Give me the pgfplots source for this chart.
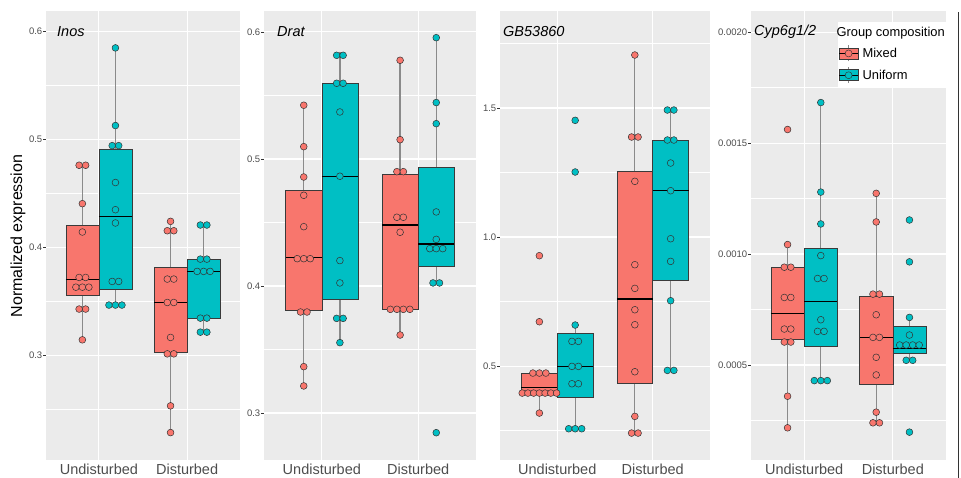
\documentclass[border=0pt]{standalone}
\usepackage{fontspec}
\setmainfont{Liberation Sans}
\usepackage{pgfplots}
\pgfplotsset{compat=1.18}
\usepgfplotslibrary{statistics}
\definecolor{mixc}{HTML}{F8766D}
\definecolor{unic}{HTML}{00BFC4}
\definecolor{bgc}{HTML}{EBEBEB}
\definecolor{labc}{HTML}{4D4D4D}
\definecolor{tickc}{HTML}{333333}
\definecolor{boxc}{HTML}{3A3A3A}
\definecolor{whc}{HTML}{8A8A8A}
\definecolor{dotb}{HTML}{333333}
\pgfplotsset{
  panel/.style={
    scale only axis, height=449pt, xmin=0.4, xmax=2.6,
    anchor=south west,
    axis background/.style={fill=bgc},
    axis line style={draw=none},
    xtick={1,2}, xticklabels={Undisturbed,Disturbed},
    xmajorgrids, ymajorgrids, yminorgrids,
    major grid style={white, line width=1.1pt},
    minor grid style={white, line width=0.55pt},
    tick align=outside, major tick length=2.75pt, minor tick length=0pt,
    ytick pos=left, xtick pos=bottom,
    xtick style={draw=none},
    ytick style={draw=tickc, line width=0.5pt},
    scaled ticks=false,
    yticklabel style={font=\fontsize{9.5}{10}\selectfont, text=labc, inner sep=0.8pt},
    xticklabel style={font=\fontsize{14.5}{15}\selectfont, text=labc, inner sep=1pt, yshift=0pt},
    boxplot/draw direction=y,
    boxplot/box extend=0.375,
    boxplot/whisker extend=0,
    boxplot/every whisker/.style={draw=whc, line width=1.3pt},
    boxplot/every median/.style={draw=black, line width=1.2pt},
  },
  mbox/.style={fill=mixc, draw=boxc, line width=0.6pt, forget plot},
  ubox/.style={fill=unic, draw=boxc, line width=0.6pt, forget plot},
  mdots/.style={only marks, mark=*, mark size=3.4pt, mark options={fill=mixc, draw=dotb, line width=0.5pt}, forget plot},
  udots/.style={only marks, mark=*, mark size=3.4pt, mark options={fill=unic, draw=dotb, line width=0.5pt}, forget plot},
  mkey/.style={legend image code/.code={
      \draw[draw=whc, line width=0.8pt] (9.5pt,-8pt) -- (9.5pt,8pt);
      \draw[fill=mixc, draw=boxc, line width=0.6pt] (0pt,-5.5pt) rectangle (19pt,5.5pt);
      \draw[black, line width=0.8pt] (0pt,0pt) -- (19pt,0pt);
      \draw[fill=mixc, draw=dotb, line width=0.45pt] (9.5pt,0pt) circle (3.5pt);}},
  ukey/.style={legend image code/.code={
      \draw[draw=whc, line width=0.8pt] (9.5pt,-8pt) -- (9.5pt,8pt);
      \draw[fill=unic, draw=boxc, line width=0.6pt] (0pt,-5.5pt) rectangle (19pt,5.5pt);
      \draw[black, line width=0.8pt] (0pt,0pt) -- (19pt,0pt);
      \draw[fill=unic, draw=dotb, line width=0.45pt] (9.5pt,0pt) circle (3.5pt);}},
}
\begin{document}
\begin{tikzpicture}
\useasboundingbox (0pt,0pt) rectangle (961pt,478pt);

% ---------------- Panel 1: Inos ----------------
\begin{axis}[panel, at={(46pt,18pt)}, width=194pt, ymin=0.2028, ymax=0.619,
  ytick={0.3,0.4,0.5,0.6}, yticklabels={0.3,0.4,0.5,0.6},
  minor ytick={0.25,0.35,0.45,0.55}]
\addplot[mbox, boxplot prepared={draw position=0.8125, lower whisker=0.3142, lower quartile=0.3556, median=0.3699, upper quartile=0.4206, upper whisker=0.476}] coordinates {};
\addplot[ubox, boxplot prepared={draw position=1.1875, lower whisker=0.3464, lower quartile=0.3609, median=0.4286, upper quartile=0.4911, upper whisker=0.5848}] coordinates {};
\addplot[mbox, boxplot prepared={draw position=1.8125, lower whisker=0.2282, lower quartile=0.3028, median=0.3488, upper quartile=0.3813, upper whisker=0.424}] coordinates {};
\addplot[ubox, boxplot prepared={draw position=2.1875, lower whisker=0.3213, lower quartile=0.3343, median=0.3776, upper quartile=0.389, upper whisker=0.4206}] coordinates {};
\addplot[mdots] coordinates {(0.7756,0.476)(0.8494,0.476)(0.8125,0.4404)(0.8125,0.4141)(0.7756,0.372)(0.8494,0.372)(0.7388,0.363)(0.8125,0.363)(0.8862,0.363)(0.7756,0.3427)(0.8494,0.3427)(0.8125,0.3142)};
\addplot[udots] coordinates {(1.1875,0.5848)(1.1875,0.5128)(1.1506,0.4942)(1.2244,0.4942)(1.1875,0.460)(1.1875,0.4348)(1.1875,0.4225)(1.1506,0.3683)(1.2244,0.3683)(1.1138,0.3464)(1.1875,0.3464)(1.2612,0.3464)};
\addplot[mdots] coordinates {(1.8125,0.424)(1.7756,0.4153)(1.8494,0.4153)(1.7756,0.3705)(1.8494,0.3705)(1.7756,0.3488)(1.8494,0.3488)(1.8125,0.3164)(1.7756,0.3012)(1.8494,0.3012)(1.8125,0.253)(1.8125,0.2282)};
\addplot[udots] coordinates {(2.1506,0.4206)(2.2244,0.4206)(2.1506,0.389)(2.2244,0.389)(2.1138,0.3776)(2.1875,0.3776)(2.2612,0.3776)(2.1506,0.3343)(2.2244,0.3343)(2.1506,0.3213)(2.2244,0.3213)};
\end{axis}

% ---------------- Panel 2: Drat ----------------
\begin{axis}[panel, at={(264pt,18pt)}, width=212pt, ymin=0.263, ymax=0.6165,
  ytick={0.3,0.4,0.5,0.6}, yticklabels={0.3,0.4,0.5,0.6},
  minor ytick={0.35,0.45,0.55}]
\addplot[mbox, boxplot prepared={draw position=0.8125, lower whisker=0.3213, lower quartile=0.3811, median=0.4223, upper quartile=0.4751, upper whisker=0.5423}] coordinates {};
\addplot[ubox, boxplot prepared={draw position=1.1875, lower whisker=0.3554, lower quartile=0.3895, median=0.4864, upper quartile=0.5596, upper whisker=0.5845}] coordinates {};
\addplot[mbox, boxplot prepared={draw position=1.8125, lower whisker=0.3614, lower quartile=0.3816, median=0.448, upper quartile=0.4879, upper whisker=0.5777}] coordinates {};
\addplot[ubox, boxplot prepared={draw position=2.1875, lower whisker=0.4024, lower quartile=0.4152, median=0.4331, upper quartile=0.4934, upper whisker=0.5955}] coordinates {};
\addplot[mdots] coordinates {(0.8125,0.5423)(0.8125,0.5097)(0.8125,0.4858)(0.8125,0.4714)(0.8125,0.4467)(0.7451,0.4215)(0.8125,0.4215)(0.8799,0.4215)(0.7788,0.3795)(0.8462,0.3795)(0.8125,0.3365)(0.8125,0.3213)};
\addplot[udots] coordinates {(1.1538,0.5816)(1.2212,0.5816)(1.1538,0.5596)(1.2212,0.5596)(1.1875,0.537)(1.1875,0.4864)(1.1875,0.42)(1.1875,0.4024)(1.1538,0.3745)(1.2212,0.3745)(1.1875,0.3554)};
\addplot[mdots] coordinates {(1.8125,0.5777)(1.8125,0.5152)(1.7788,0.49)(1.8462,0.49)(1.7788,0.4541)(1.8462,0.4541)(1.8125,0.4423)(1.7114,0.3816)(1.7788,0.3816)(1.8462,0.3816)(1.9136,0.3816)(1.8125,0.3614)};
\addplot[udots] coordinates {(2.1875,0.5955)(2.1875,0.5444)(2.1875,0.5278)(2.1875,0.4583)(2.1875,0.4367)(2.1201,0.4294)(2.1875,0.4294)(2.2549,0.4294)(2.1538,0.4024)(2.2212,0.4024)(2.1875,0.2845)};
\end{axis}

% ---------------- Panel 3: GB53860 ----------------
\begin{axis}[panel, at={(500pt,18pt)}, width=210pt, ymin=0.136, ymax=1.876,
  ytick={0.5,1.0,1.5}, yticklabels={0.5,1.0,1.5},
  minor ytick={0.25,0.75,1.25,1.75}]
\addplot[mbox, boxplot prepared={draw position=0.8125, lower whisker=0.3178, lower quartile=0.395, median=0.4173, upper quartile=0.4703, upper whisker=0.4729}] coordinates {};
\addplot[ubox, boxplot prepared={draw position=1.1875, lower whisker=0.245, lower quartile=0.3786, median=0.4987, upper quartile=0.628, upper whisker=0.659}] coordinates {};
\addplot[mbox, boxplot prepared={draw position=1.8125, lower whisker=0.2403, lower quartile=0.434, median=0.7597, upper quartile=1.2558, upper whisker=1.7054}] coordinates {};
\addplot[ubox, boxplot prepared={draw position=2.1875, lower whisker=0.4832, lower quartile=0.8307, median=1.18, upper quartile=1.376, upper whisker=1.4922}] coordinates {};
\addplot[mdots] coordinates {(0.8125,0.9277)(0.8125,0.6718)(0.7444,0.4729)(0.8125,0.4729)(0.8806,0.4729)(0.6325,0.3953)(0.6925,0.3953)(0.7525,0.3953)(0.8125,0.3953)(0.8725,0.3953)(0.9325,0.3953)(0.9925,0.3953)(0.8125,0.3178)};
\addplot[udots] coordinates {(1.1875,1.4522)(1.1875,1.252)(1.1875,0.659)(1.1535,0.5956)(1.2215,0.5956)(1.1535,0.4987)(1.2215,0.4987)(1.1535,0.4315)(1.2215,0.4315)(1.1194,0.2571)(1.1875,0.2571)(1.2556,0.2571)};
\addplot[mdots] coordinates {(1.8125,1.7054)(1.7785,1.3876)(1.8465,1.3876)(1.8125,1.2158)(1.8125,0.8928)(1.8125,0.801)(1.8125,0.7183)(1.8125,0.6602)(1.8125,0.478)(1.8125,0.3049)(1.7785,0.2403)(1.8465,0.2403)};
\addplot[udots] coordinates {(2.1535,1.4922)(2.2215,1.4922)(2.1535,1.376)(2.2215,1.376)(2.1875,1.2868)(2.1875,1.1796)(2.1875,0.9935)(2.1875,0.9057)(2.1875,0.7532)(2.1535,0.4832)(2.2215,0.4832)};
\end{axis}

% ---------------- Panel 4: Cyp6g1/2 ----------------
\begin{axis}[panel, at={(751pt,18pt)}, width=195pt, ymin=0.000072, ymax=0.002095,
  ytick={0.0005,0.001,0.0015,0.002}, yticklabels={0.0005,0.0010,0.0015,0.0020},
  minor ytick={0.00025,0.00075,0.00125,0.00175},
  legend cell align=left,
  legend style={at={(1,0.9755)}, anchor=north east, xshift=2pt, draw=none, fill=white,
    font=\fontsize{12.9}{14}\selectfont, inner xsep=1pt, inner ysep=3pt, row sep=5pt,
    /tikz/every odd column/.append style={column sep=2pt}}]
\addlegendimage{empty legend}
\addlegendentry{\hspace{-26pt}Group composition}
\addlegendimage{mkey}
\addlegendentry{Mixed}
\addlegendimage{ukey}
\addlegendentry{Uniform}
\addplot[mbox, boxplot prepared={draw position=0.8125, lower whisker=0.000217, lower quartile=0.000617, median=0.0007309, upper quartile=0.0009407, upper whisker=0.0010426}] coordinates {};
\addplot[ubox, boxplot prepared={draw position=1.1875, lower whisker=0.0004297, lower quartile=0.0005841, median=0.0007878, upper quartile=0.0010276, upper whisker=0.0016824}] coordinates {};
\addplot[mbox, boxplot prepared={draw position=1.8125, lower whisker=0.00023, lower quartile=0.0004148, median=0.0006245, upper quartile=0.0008103, upper whisker=0.0012733}] coordinates {};
\addplot[ubox, boxplot prepared={draw position=2.1875, lower whisker=0.0005211, lower quartile=0.0005541, median=0.0005736, upper quartile=0.0006739, upper whisker=0.0007144}] coordinates {};
\addplot[mdots] coordinates {(0.8125,0.001561)(0.8125,0.0010426)(0.7758,0.0009407)(0.8492,0.0009407)(0.7758,0.0008043)(0.8492,0.0008043)(0.7758,0.000662)(0.8492,0.000662)(0.7758,0.0006035)(0.8492,0.0006035)(0.8125,0.0003593)(0.8125,0.000217)};
\addplot[udots] coordinates {(1.1875,0.0016824)(1.1875,0.001279)(1.1875,0.0011355)(1.1875,0.000993)(1.1508,0.0008897)(1.2242,0.0008897)(1.1875,0.000704)(1.1508,0.0006515)(1.2242,0.0006515)(1.1141,0.0004297)(1.1875,0.0004297)(1.2609,0.0004297)};
\addplot[mdots] coordinates {(1.8125,0.0012733)(1.8125,0.0011445)(1.7758,0.0008193)(1.8492,0.0008193)(1.8125,0.0007264)(1.7758,0.0006245)(1.8492,0.0006245)(1.8125,0.0005346)(1.8125,0.0004552)(1.8125,0.0002874)(1.7758,0.0002395)(1.8492,0.0002395)};
\addplot[udots] coordinates {(2.1875,0.0011534)(2.1875,0.0009647)(2.1875,0.0007144)(2.1875,0.000635)(2.0774,0.00059)(2.1508,0.00059)(2.2242,0.00059)(2.2976,0.00059)(2.1508,0.0005211)(2.2242,0.0005211)(2.1875,0.0001975)};
\end{axis}

% titles and axis label
\node[anchor=west, font=\fontsize{14.5}{15}\selectfont\itshape, inner sep=0pt] at (57pt,446pt) {Inos};
\node[anchor=west, font=\fontsize{14.5}{15}\selectfont\itshape, inner sep=0pt] at (277pt,446pt) {Drat};
\node[anchor=west, font=\fontsize{14.5}{15}\selectfont\itshape, inner sep=0pt] at (503pt,446pt) {GB53860};
\node[anchor=west, font=\fontsize{14.5}{15}\selectfont\itshape, inner sep=0pt] at (754pt,446pt) {Cyp6g1/2};
\node[rotate=90, font=\fontsize{16}{18}\selectfont, inner sep=0pt] at (18pt,242pt) {Normalized expression};
\draw[tickc, line width=1pt] (958pt,0pt) -- (958pt,466pt);
\end{tikzpicture}
\end{document}
